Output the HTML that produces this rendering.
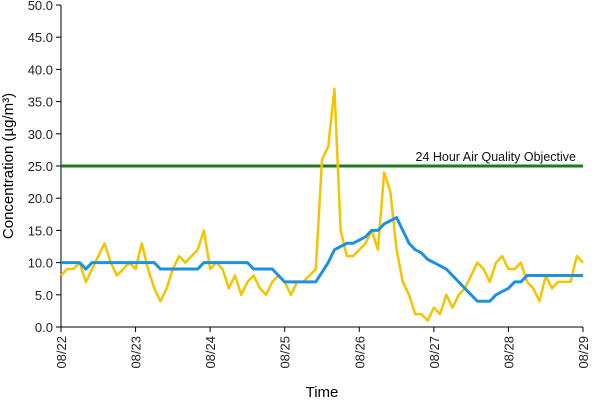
<!DOCTYPE html>
<html><head><meta charset="utf-8"><style>
body{margin:0;background:#fff;}
svg{display:block;font-family:"Liberation Sans",Arial,sans-serif;}
</style></head><body>
<svg id="chart" width="600" height="400" viewBox="0 0 600 400"></svg>
<script>
const dayLabels=["08/22","08/23","08/24","08/25","08/26","08/27","08/28","08/29"];
const yTicks=[0,5,10,15,20,25,30,35,40,45,50];
const hourly=[8,9,9,10,7,9,11,13,10,8,9,10,
9,13,9,6,4,6,9,11,10,11,12,15,
9,10,9,6,8,5,7,8,6,5,7,8,
7,5,7,7,8,9,26,28,37,15,11,11,
12,13,15,12,24,21,12,7,5,2,2,1,
3,2,5,3,5,6,8,10,9,7,10,11,
9,9,10,7,6,4,8,6,7,7,7,11,10];
const rolling=[10,10,10,10,9,10,10,10,10,10,10,10,
10,10,10,10,9,9,9,9,9,9,9,10,
10,10,10,10,10,10,10,9,9,9,9,8,
7,7,7,7,7,7,8.5,10,12,12.5,13,13,
13.5,14,15,15,16,16.5,17,15,13,12,11.5,10.5,
10,9.5,9,8,7,6,5,4,4,4,5,5.5,
6,7,7,8,8,8,8,8,8,8,8,8,8];
const objective=[25];
const NS="http://www.w3.org/2000/svg";
const svg=document.getElementById("chart");
const X0=61,X1=583,Y0=327,Y1=5;
const xs=i=>X0+(X1-X0)*i/(hourly.length-1);
const xd=d=>X0+(X1-X0)*d/(dayLabels.length-1);
const ys=v=>Y0-(Y0-Y1)*v/50;
function mk(t,a){const e=document.createElementNS(NS,t);for(const k in a)e.setAttribute(k,a[k]);svg.appendChild(e);return e;}
// axes
let ax=mk("line",{x1:X0,y1:Y1,x2:X0,y2:Y0,stroke:"#000","stroke-width":1});


let bx=mk("line",{x1:X0,y1:Y0,x2:X1,y2:Y0,stroke:"#000","stroke-width":1});


yTicks.forEach(v=>{
 const t=mk("line",{x1:X0-5,y1:ys(v),x2:X0,y2:ys(v),stroke:"#000"});
 
 
 const l=mk("text",{x:X0-8,y:ys(v)+5,"text-anchor":"end","font-size":"13",fill:"#222"});
 l.textContent=v.toFixed(1);
 
 
});
dayLabels.forEach((d,i)=>{
 const x=xd(i);
 const t=mk("line",{x1:x,y1:Y0,x2:x,y2:Y0+5,stroke:"#000"});
 
 
 const l=mk("text",{x:0,y:0,"text-anchor":"end","font-size":"13",fill:"#222",transform:`translate(${x+5},${Y0+9}) rotate(-90)`});
 l.textContent=d;
 
 
});
// objective line
const g=mk("line",{x1:X0,y1:ys(objective[0]),x2:X1,y2:ys(objective[0]),stroke:"#1f7a1f","stroke-width":3});


const gl=mk("text",{x:576,y:ys(objective[0])-5,"text-anchor":"end","font-size":"12.5",fill:"#111"});
gl.textContent="24 Hour Air Quality Objective";


// series
const p1=mk("polyline",{points:hourly.map((v,i)=>xs(i)+","+ys(v)).join(" "),fill:"none",stroke:"#f5c400","stroke-width":2.5,"stroke-linejoin":"round"});


const p2=mk("polyline",{points:rolling.map((v,i)=>xs(i)+","+ys(v)).join(" "),fill:"none",stroke:"#1e90e0","stroke-width":3,"stroke-linejoin":"round"});


// titles
const xt=mk("text",{x:322,y:397,"text-anchor":"middle","font-size":"15",fill:"#000"});
xt.textContent="Time";


const yt=mk("text",{x:0,y:0,"text-anchor":"middle","font-size":"15",fill:"#000",transform:"translate(13,166) rotate(-90)"});
yt.textContent="Concentration (µg/m³)";


</script>
</body></html>
